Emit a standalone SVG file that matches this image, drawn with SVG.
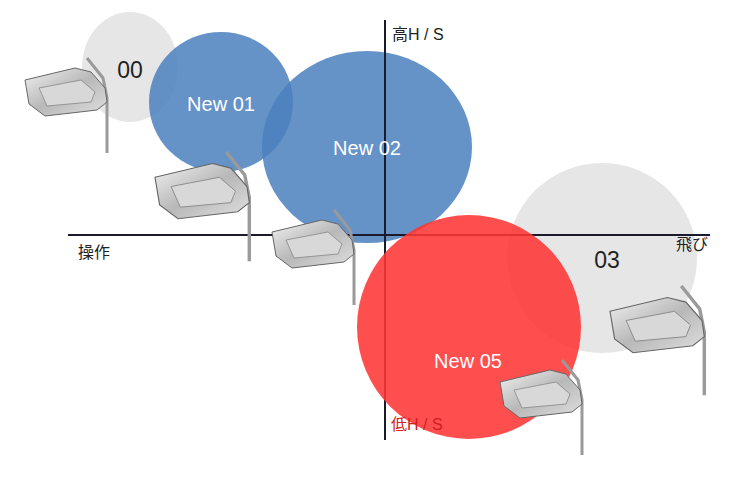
<svg xmlns="http://www.w3.org/2000/svg" width="730" height="504" viewBox="0 0 730 504">
<style>
.lbl{font-family:"Liberation Sans","Noto Sans CJK JP",sans-serif;font-size:16px;fill:#222}
.big{font-family:"Liberation Sans",sans-serif;font-size:20px;fill:#fff;text-anchor:middle}
.num{font-family:"Liberation Sans",sans-serif;font-size:23px;fill:#222;text-anchor:middle}
.shaft{stroke:#9a9a9a;stroke-width:3;fill:none}
.head{fill:url(#steel);stroke:#666;stroke-width:1}
.face{fill:#d8d8d8;stroke:#888;stroke-width:0.8}
</style>
<defs>
<linearGradient id="steel" x1="0" y1="0" x2="1" y2="1">
<stop offset="0" stop-color="#f2f2f2"/><stop offset="0.5" stop-color="#b8b8b8"/><stop offset="1" stop-color="#e0e0e0"/>
</linearGradient>
<g id="club">
<path class="shaft" d="M62 0 L78 20 L82 40 L82 95"/>
<path class="head" d="M0 22 L50 10 L66 14 L80 30 L82 44 L72 52 L20 58 L4 46 Z"/>
<path class="face" d="M14 30 L56 22 L70 34 L66 44 L22 48 Z"/>
</g>
</defs>
<g id="bubbles">
<ellipse cx="130" cy="67" rx="48" ry="55" fill="#e6e6e6"/>
<ellipse cx="602" cy="258" rx="95" ry="95" fill="#e3e3e3" opacity="0.9"/>
<ellipse cx="221" cy="102" rx="72" ry="70" fill="#4a80bd" opacity="0.85"/>
<ellipse cx="367" cy="147" rx="105" ry="96" fill="#4a80bd" opacity="0.85"/>
</g>
<g id="axes">
<line x1="68" y1="235" x2="710" y2="235" stroke="#1a1a2a" stroke-width="2"/>
<line x1="385" y1="20" x2="385" y2="440" stroke="#1a1a2a" stroke-width="2"/>
</g>
<g id="new05"><ellipse cx="469" cy="327" rx="112" ry="112" fill="#ff3535" opacity="0.88"/></g>
<g id="clubs">
<use href="#club" transform="translate(25,58) scale(1.0)"/>
<use href="#club" transform="translate(155,152) scale(1.15)"/>
<use href="#club" transform="translate(272,210) scale(1.0)"/>
<use href="#club" transform="translate(610,286) scale(1.15)"/>
<use href="#club" transform="translate(500,360) scale(1.0)"/>
</g>
<g id="labels">
<text class="num" x="130" y="78">00</text>
<text class="big" x="221" y="111">New 01</text>
<text class="big" x="367" y="155">New 02</text>
<text class="num" x="607" y="268">03</text>
<text class="big" x="468" y="368">New 05</text>
<text class="lbl" x="392" y="40">高H / S</text>
<text class="lbl" x="78" y="258">操作</text>
<text class="lbl" x="676" y="250">飛び</text>
<text class="lbl" x="391" y="430" style="fill:#d02020">低H / S</text>
</g>
</svg>
